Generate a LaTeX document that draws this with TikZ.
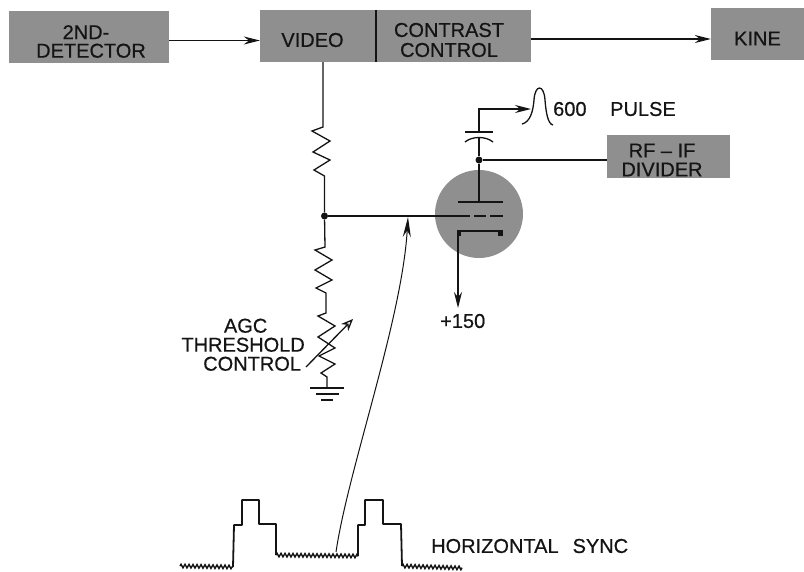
\documentclass[tikz,border=0pt]{standalone}
\usepackage{fontspec}
\setmainfont{Liberation Sans}[FakeBold=0.6]
\usetikzlibrary{arrows.meta,decorations.pathmorphing,shapes.geometric,calc}
\definecolor{boxgray}{gray}{0.56}
\definecolor{ink}{gray}{0.08}
\tikzset{
  wire/.style={draw=ink,line width=1.3pt},
  thick wire/.style={draw=ink,line width=2.6pt},
  flow/.style={wire,-{Stealth[length=16pt,width=8pt]}},
  block/.style={fill=boxgray,inner sep=0pt},
  lbl/.style={inner sep=0pt,align=center,text=ink,font=\fontsize{20}{19}\selectfont},
  dot/.style={circle,fill=ink,inner sep=0pt,minimum size=7pt},
  zig/.style={wire,line join=miter},
  wiggle/.style={draw=ink,line width=1.4pt,decorate,decoration={zigzag,segment length=4pt,amplitude=1.8pt}},
  pulse/.style={draw=ink,line width=1.8pt,line join=round}
}
\begin{document}
\begin{tikzpicture}[x=1pt,y=-1pt]
\useasboundingbox (0,0) rectangle (804,571);
% blocks
\node[block,minimum width=160pt,minimum height=52pt] (det) at (89,37) {};
\node[lbl,font=\fontsize{20}{18.5}\selectfont] (dettxt) at (91,41.5) {2ND-\hspace*{10pt}\\DETECTOR};
\node[block,minimum width=116pt,minimum height=52pt] (video) at (318,36) {};
\node[lbl] (videotxt) at (312.5,40) {VIDEO};
\node[block,minimum width=155pt,minimum height=52pt] (contrast) at (453.5,36) {};
\node[lbl,font=\fontsize{20}{20}\selectfont] (contrasttxt) at (449,40) {CONTRAST\\CONTROL};
\node[block,minimum width=93pt,minimum height=52pt] (kine) at (757.5,34) {};
\node[lbl] (kinetxt) at (757.5,38.5) {KINE};
\node[block,minimum width=123pt,minimum height=43pt] (rf) at (668.5,156.5) {};
\node[lbl] (rftxt) at (662,160) {RF – IF\\DIVIDER};
\draw[wire,line width=1.5pt] (video.north east) -- (video.south east);
% tube
\node[circle,fill=boxgray,minimum size=88pt,inner sep=0pt] (tube) at (479,214) {};
\coordinate (plateL) at (458,202); \coordinate (plateR) at (503,202); \coordinate (plateM) at (479,202);
\draw[thick wire] (plateL) -- (plateR);
\draw[thick wire] (459,216) -- (470,216);
\draw[thick wire] (474,216) -- (486,216);
\draw[thick wire] (490,216) -- (503,216);
\coordinate (cathL) at (458,231); \coordinate (cathR) at (503,231);
\draw[thick wire] (cathL) -- (cathR);
\fill[ink] (498,230) rectangle (503,236);
\fill[ink] (457,230) rectangle (461,236);
% main connectors
\draw[flow] (det.east |- 0,40.5) -- (video.west |- 0,40.5);
\draw[flow] (contrast.east |- 0,39) -- (kine.west |- 0,39);
% divider network
\coordinate (j1) at (324.5,216);
\node[dot] (jn) at (j1) {};
\coordinate (r1a) at (323,127); \coordinate (r1b) at (324.5,176);
\draw[zig] (video.south -| r1a) -- (r1a) -- (312,131) -- (330,141) -- (313,152) -- (330,160) -- (314,170) -- (r1b) -- (jn);
\coordinate (r2a) at (325,247);
\draw[zig] (jn) -- (r2a) -- (315,250) -- (332,260) -- (315,270) -- (332,280) -- (316,288) -- (326,293)
  -- (326,313) -- (318,316) -- (335,326) -- (318,337) -- (335,348) -- (319,356) -- (335,364) -- (321,373) -- (327,377) -- (327,388);
\draw[wire,-{Stealth[length=12pt,width=10pt,open,fill=white]}] (306,367) -- (353,319);
\coordinate (g1l) at (310,388); \coordinate (g1r) at (344,388);
\draw[wire] (g1l) -- (g1r);
\draw[wire] (316,394) -- (339,394);
\draw[wire,line width=1.6pt] (321,400) -- (333,400);
% grid line
\draw[wire] (jn) -- (459,216);
% sync curve
\coordinate (syncS) at (336,552);
\coordinate (syncE) at (408,217);
\draw[wire,line width=1pt,-{Stealth[length=20pt,width=8pt]}] (syncS) .. controls (348,470) and (402,320) .. (syncE);
% plate to capacitor
\node[dot] (j2) at (479,160) {};
\draw[wire,line width=1.8pt] (plateM) -- (j2);
\draw[wire] (j2) -- (rf.west |- j2);
\draw[wire,line width=1.5pt] (j2) -- (479,138);
\draw[wire] (465,142) .. controls (472,136) and (486,136) .. (493,142);
\draw[wire] (465,132) -- (493,132);
\coordinate (capT) at (479,132);
\coordinate (pulseIn) at (531,109);
\draw[flow] (capT) -- (479,109) -- (pulseIn);
\draw[wire] (522,124) .. controls (530,122) and (533,112) .. (534,100) .. controls (535,84) and (544,84) .. (545,100) .. controls (546,113) and (548,124) .. (553,125);
\node[lbl,anchor=west,font=\fontsize{20}{20}\selectfont] (p600) at (553,109) {600};
\node[lbl,anchor=west] (pulse) at (610,109) {PULSE};
% cathode to +150
\coordinate (plus) at (458,308);
\draw[flow] (cathL) -- (plus);
\node[lbl,anchor=west] (p150) at (440,321) {+150};
% AGC
\node[lbl,anchor=north east,align=center] (agc) at (305,318.5) {\hspace*{5pt}AGC\\THRESHOLD\\\hspace*{18pt}CONTROL};
% sync waveform
\draw[wiggle] (180,566) -- (233,567);
\draw[pulse] (233,567) -- (234,525) -- (242,525) -- (242,500) -- (259,500) -- (259,524) -- (276,524) -- (276,555);
\draw[wiggle] (276,555) -- (358,556);
\draw[pulse] (358,556) -- (358,525) -- (365,525) -- (365,500) -- (383,500) -- (383,524) -- (401,524) -- (402,566);
\draw[wiggle] (402,566) -- (462,568);
\node[lbl,anchor=west] (hs) at (431,546) {HORIZONTAL\hspace{14pt}SYNC};
\end{tikzpicture}
\end{document}
